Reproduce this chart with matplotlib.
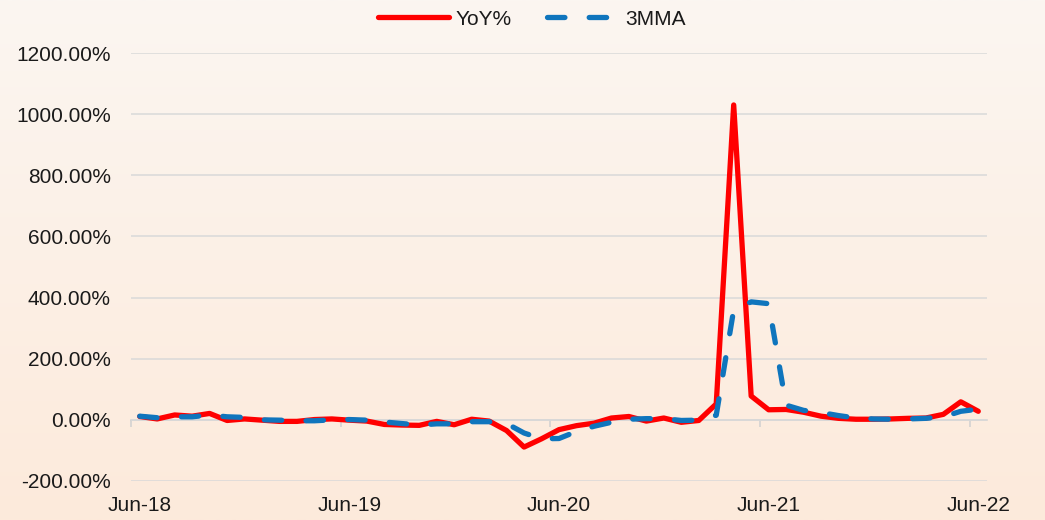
import numpy as np
import matplotlib.pyplot as plt
from matplotlib.colors import LinearSegmentedColormap
from matplotlib.ticker import FuncFormatter, FixedLocator

plt.rcParams['font.family'] = ['Liberation Sans', 'DejaVu Sans']

# monthly data, Jun-18 .. Jun-22
months = ["Jun-18", "Jul-18", "Aug-18", "Sep-18", "Oct-18", "Nov-18", "Dec-18",
          "Jan-19", "Feb-19", "Mar-19", "Apr-19", "May-19", "Jun-19", "Jul-19",
          "Aug-19", "Sep-19", "Oct-19", "Nov-19", "Dec-19", "Jan-20", "Feb-20",
          "Mar-20", "Apr-20", "May-20", "Jun-20", "Jul-20", "Aug-20", "Sep-20",
          "Oct-20", "Nov-20", "Dec-20", "Jan-21", "Feb-21", "Mar-21", "Apr-21",
          "May-21", "Jun-21", "Jul-21", "Aug-21", "Sep-21", "Oct-21", "Nov-21",
          "Dec-21", "Jan-22", "Feb-22", "Mar-22", "Apr-22", "May-22", "Jun-22"]

yoy = [11, 3, 16, 12, 21, -2, 3, -1, -5, -5, 1, 3, -1, -4, -15, -17, -18, -5,
       -16, 2, -4, -35, -89, -62, -32, -19, -11, 6, 11, -4, 6, -8, -2, 52,
       1030, 78, 33, 34, 25, 12, 5, 2, 2, 3, 5, 6, 18, 59, 28]

mma3 = [12, 7, 10, 10, 16, 10, 8, 0, -1, -3, -3, 0, 1, -1, -7, -12, -17, -13,
        -13, -6, -6, -12, -43, -62, -61, -38, -21, -8, 2, 4, 4, -2, -1, 15,
        360, 386, 380, 48, 31, 24, 14, 6, 3, 2, 3, 5, 10, 28, 35]

x = np.arange(len(months))
label_idx = [0, 12, 24, 36, 48]

fig = plt.figure(figsize=(10.45, 5.2), dpi=100)

# background gradient
bg = fig.add_axes([0, 0, 1, 1], zorder=-10)
cmap = LinearSegmentedColormap.from_list('bg', ['#fbf6f1', '#fdeadb'])
bg.imshow(np.linspace(0, 1, 256).reshape(-1, 1), aspect='auto', cmap=cmap,
          extent=[0, 1, 0, 1])
bg.set_axis_off()

ax = fig.add_axes([131 / 1045, 39 / 520, 856 / 1045, 428 / 520])
ax.set_facecolor('none')

ax.plot(x, yoy, color='#ff0000', lw=3.8, solid_capstyle='round',
        solid_joinstyle='round', label='YoY%', zorder=3)
ax.plot(x, mma3, color='#0f75bd', lw=3.8, linestyle=(0, (3.3, 4.6)),
        dash_capstyle='round', label='3MMA', zorder=4)

ax.set_xlim(-0.5, len(months) - 0.5)
ax.set_ylim(-200, 1200)
ax.set_yticks(np.arange(-200, 1201, 200))
ax.yaxis.set_major_formatter(FuncFormatter(lambda v, p: f'{v:.2f}%'))
ax.grid(axis='y', color='#d9d9d9', lw=1.1)
ax.set_axisbelow(True)

ax.set_xticks(label_idx)
ax.set_xticklabels([months[i] for i in label_idx])
ax.tick_params(axis='x', length=0, pad=11, labelsize=15, labelcolor='#1a1a1a')
ax.tick_params(axis='y', length=0, pad=14.5, labelsize=15, labelcolor='#1a1a1a')
for s in ax.spines.values():
    s.set_visible(False)

# horizontal axis line with tick marks at zero
sec = ax.secondary_xaxis(200 / 1400)
sec.xaxis.set_major_locator(FixedLocator([i - 0.5 for i in label_idx]))
sec.tick_params(axis='x', direction='out', length=5, color='#d0d0d0', width=1.1,
                labelbottom=False, labeltop=False)
sec.spines['bottom'].set_color('#d0d0d0')
sec.spines['bottom'].set_linewidth(1.1)
for k in ['top', 'left', 'right']:
    sec.spines[k].set_visible(False)

fig.legend(loc='center', bbox_to_anchor=(0.509, 0.963), ncol=2, frameon=False,
           fontsize=15, handlelength=3.4, columnspacing=1.7, handletextpad=0.35,
           labelcolor='#1a1a1a')

fig.savefig('out.png', dpi=100)
